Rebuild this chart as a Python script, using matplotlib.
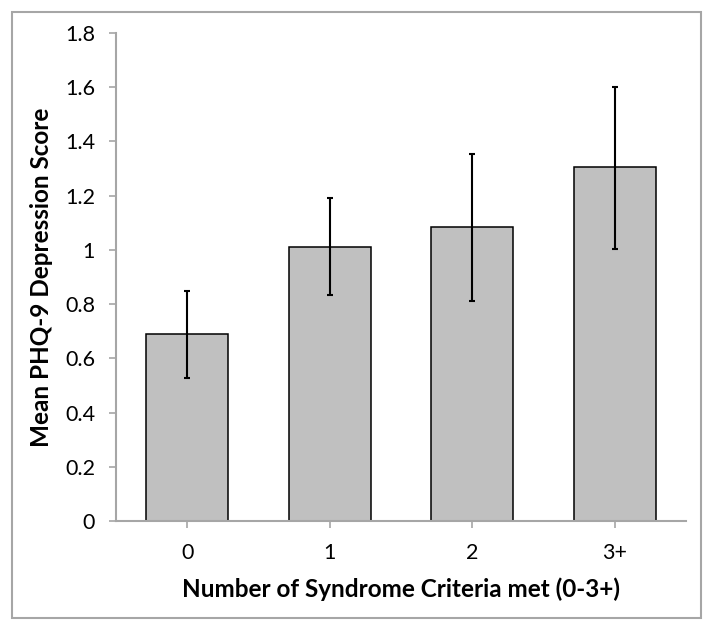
import matplotlib
matplotlib.use("Agg")
import matplotlib.pyplot as plt
from matplotlib.patches import Rectangle

categories = ["0", "1", "2", "3+"]
means = [0.69, 1.01, 1.083, 1.306]
err_low = [0.528, 0.835, 0.811, 1.005]
err_high = [0.848, 1.19, 1.355, 1.60]
yticks = [0, 0.2, 0.4, 0.6, 0.8, 1, 1.2, 1.4, 1.6, 1.8]
ytick_labels = ["0", "0.2", "0.4", "0.6", "0.8", "1", "1.2", "1.4", "1.6", "1.8"]

plt.rcParams['font.family'] = ['Lato', 'DejaVu Sans']

W, H = 714, 631
fig = plt.figure(figsize=(W / 100, H / 100), dpi=100)
fig.patches.append(Rectangle((12 / W, 1 - 618 / H), (701 - 12) / W, (618 - 12) / H,
                             transform=fig.transFigure, fill=False,
                             edgecolor='#a6a6a6', linewidth=1.5))

left, right, top, bottom = 116, 686, 33, 521
ax = fig.add_axes([left / W, 1 - bottom / H, (right - left) / W, (bottom - top) / H])

x = list(range(len(categories)))
lower = [m - l for m, l in zip(means, err_low)]
upper = [h - m for m, h in zip(means, err_high)]
ax.bar(x, means, width=0.575, color='#c0c0c0', edgecolor='black', linewidth=1.1, zorder=2)
ax.errorbar(x, means, yerr=[lower, upper], fmt='none', ecolor='black',
            elinewidth=1.5, capsize=2.5, capthick=1.5, zorder=3)

ax.set_xlim(-0.5, len(categories) - 0.5)
ax.set_ylim(0, 1.8)
ax.set_yticks(yticks)
ax.set_yticklabels(ytick_labels)
ax.set_xticks(x)
ax.set_xticklabels(categories)

for s in ['top', 'right']:
    ax.spines[s].set_visible(False)
for s in ['left', 'bottom']:
    ax.spines[s].set_color('#a6a6a6')
    ax.spines[s].set_linewidth(1.5)
ax.tick_params(axis='both', colors='#a6a6a6', length=5, width=1.2,
               labelcolor='black', labelsize=15.5)
ax.tick_params(axis='y', pad=10)
ax.tick_params(axis='x', pad=11)

ax.set_ylabel("Mean PHQ-9 Depression Score", fontsize=17.5, fontweight='bold', labelpad=9)
ax.set_xlabel("Number of Syndrome Criteria met (0-3+)", fontsize=17.5, fontweight='bold', labelpad=10)

fig.savefig("out.png", dpi=100)
